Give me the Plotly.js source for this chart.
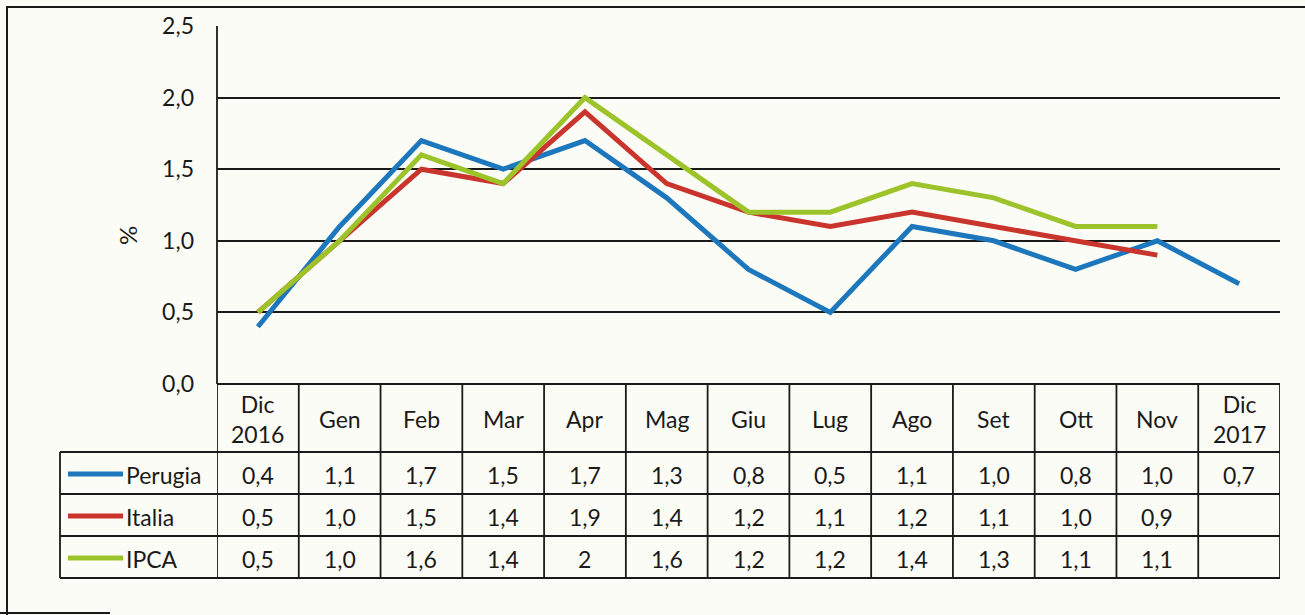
<!DOCTYPE html>
<html>
<head>
<meta charset="utf-8">
<script src="https://cdn.plot.ly/plotly-3.0.1.min.js"></script>
<style>html,body{margin:0;padding:0;background:#fcfcf6;}#chart{width:1305px;height:615px;}</style>
</head>
<body>
<div id="chart"></div>
<script>
// ---- data (as printed in the data table) ----
const categories = ['Dic<br>2016','Gen','Feb','Mar','Apr','Mag','Giu','Lug','Ago','Set','Ott','Nov','Dic<br>2017'];
const seriesNames = ['Perugia','Italia','IPCA'];
const perugia = ['0,4','1,1','1,7','1,5','1,7','1,3','0,8','0,5','1,1','1,0','0,8','1,0','0,7'];
const italia  = ['0,5','1,0','1,5','1,4','1,9','1,4','1,2','1,1','1,2','1,1','1,0','0,9',''];
const ipca    = ['0,5','1,0','1,6','1,4','2','1,6','1,2','1,2','1,4','1,3','1,1','1,1',''];
const yTicks = [0, 0.5, 1.0, 1.5, 2.0, 2.5];
const yTickText = ['0,0','0,5','1,0','1,5','2,0','2,5'];
const colors = ['#1d77bc','#c9352c','#9cc42a'];

// ---- layout helpers ----
const W = 1305, H = 615, L = 217, R = 25, T = 26, B = 231;
const PW = W - L - R, PH = H - T - B;
const px = v => (v - L) / PW;          // pixel x -> paper
const py = v => (H - B - v) / PH;      // pixel y -> paper
const FONT = 'Lato, "Open Sans", sans-serif';
const TXT = '#1a1a1a';
const FS = 23;

const toNum = s => s === '' ? null : parseFloat(s.replace(',', '.'));
const allSeries = [perugia, italia, ipca];
const xIdx = categories.map((c, i) => i);

const traces = allSeries.map((s, k) => ({
  type: 'scatter', mode: 'lines',
  x: xIdx, y: s.map(toNum),
  name: seriesNames[k],
  line: {color: colors[k], width: 5},
  connectgaps: false, hoverinfo: 'y+name'
}));

const shapes = [];
const annotations = [];
const lineCol = '#1a1a1a';
function hline(y, x0, x1, w) { shapes.push({type:'line', xref:'paper', yref:'paper', x0:px(x0), x1:px(x1), y0:py(y), y1:py(y), line:{color:lineCol, width:w||1.8}}); }
function vlinePx(x, y0, y1, w) { shapes.push({type:'line', xref:'paper', yref:'paper', x0:px(x), x1:px(x), y0:py(y0), y1:py(y1), line:{color:lineCol, width:w||1.8}}); }

// outer frame of the scanned chart
hline(7, 7, 1310, 2);
vlinePx(7, 6, 620, 2);
hline(613, -5, 110, 2);

// table grid
const rowTop = 384, hdrBottom = 452, rowH = 42;
hline(rowTop, L, W - R, 1.8);
for (let r = 0; r <= 3; r++) hline(hdrBottom + r * rowH, 60, W - R, 1.8);
for (let k = 0; k <= categories.length; k++) {
  shapes.push({type:'line', xref:'x', yref:'paper', x0:k - 0.5, x1:k - 0.5, y0:py(rowTop), y1:py(hdrBottom + 3 * rowH), line:{color:lineCol, width:1.8}});
}
vlinePx(60, hdrBottom, hdrBottom + 3 * rowH, 1.8);
vlinePx(L, T, rowTop, 1.8);

// header labels
categories.forEach((c, i) => {
  annotations.push({xref:'x', yref:'paper', x:i, y:py(419), text:c, showarrow:false,
    font:{family:FONT, size:FS, color:TXT}, align:'center', xanchor:'center', yanchor:'middle'});
});

// rows: legend key + name + values
allSeries.forEach((s, k) => {
  const yc = hdrBottom + k * rowH + rowH / 2 + 2;
  shapes.push({type:'line', xref:'paper', yref:'paper', x0:px(68), x1:px(123), y0:py(yc - 1), y1:py(yc - 1), line:{color:colors[k], width:5}});
  annotations.push({xref:'paper', yref:'paper', x:px(124), y:py(yc), text:seriesNames[k], showarrow:false,
    font:{family:FONT, size:FS, color:TXT}, xanchor:'left', yanchor:'middle'});
  s.forEach((v, i) => {
    if (v === '') return;
    annotations.push({xref:'x', yref:'paper', x:i, y:py(yc), text:v, showarrow:false,
      font:{family:FONT, size:FS, color:TXT}, xanchor:'center', yanchor:'middle'});
  });
});

// y-axis title "%"
annotations.push({xref:'paper', yref:'paper', x:px(127), y:py(236), text:'%', textangle:-90, showarrow:false,
  font:{family:FONT, size:24, color:TXT}, xanchor:'center', yanchor:'middle'});

const layout = {
  width: W, height: H,
  margin: {l: L, r: R, t: T, b: B, pad: 0},
  paper_bgcolor: '#fcfcf6', plot_bgcolor: '#fcfcf6',
  showlegend: false,
  separators: ',.',
  xaxis: {type:'linear', range:[-0.5, categories.length - 0.5], showgrid:false, zeroline:false,
          showticklabels:false, ticks:'', showline:false, fixedrange:true},
  yaxis: {range:[0, 2.5], tickvals:yTicks, ticktext:yTickText, showgrid:true, gridcolor:'#1a1a1a', gridwidth:1.8,
          zeroline:false, showline:false, ticks:'', ticklabelstandoff:22,
          tickfont:{family:FONT, size:FS, color:TXT}, fixedrange:true},
  shapes: shapes,
  annotations: annotations,
  font: {family: FONT}
};

Plotly.newPlot('chart', traces, layout, {displayModeBar:false, staticPlot:true});
</script>
</body>
</html>
